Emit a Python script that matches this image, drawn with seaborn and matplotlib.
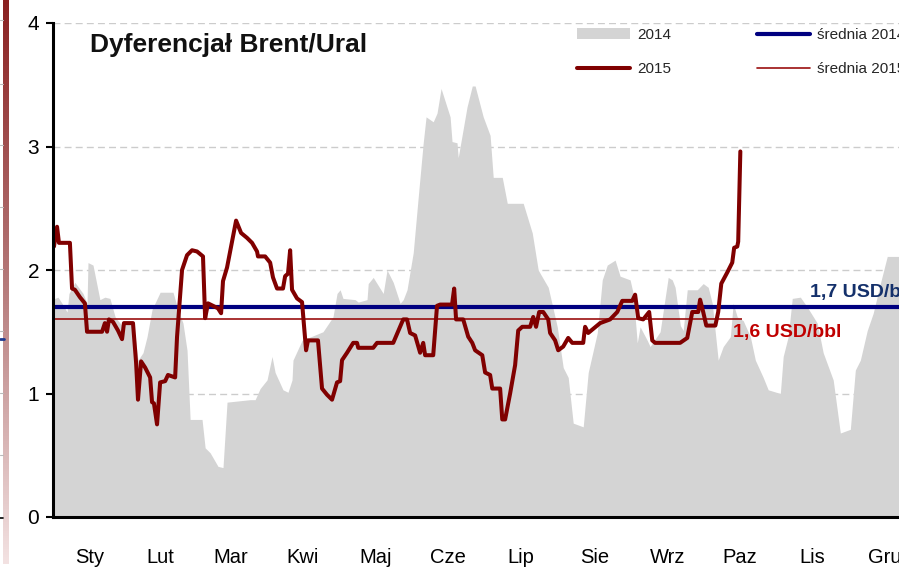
import numpy as np
import pandas as pd
import matplotlib
matplotlib.use("Agg")
import matplotlib.pyplot as plt
from matplotlib.colors import LinearSegmentedColormap
from matplotlib.lines import Line2D
from matplotlib.patches import Patch
import seaborn as sns

# Month labels (Polish) and month lengths used for the day-of-year axis
months = ["Sty", "Lut", "Mar", "Kwi", "Maj", "Cze", "Lip", "Sie", "Wrz", "Paz", "Lis", "Gru"]
month_days = [31, 28, 31, 30, 31, 30, 31, 31, 30, 31, 30, 31]

# Brent/Ural spread 2014 (USD/bbl), by day of year
day_2014 = [0, 0.8, 2.1, 3.8, 5.9, 6.7, 9.2, 12.6, 14.3, 14.7, 16.8, 19.7, 21.8, 23.9, 26.1,
            29.0, 31.1, 33.2, 34.5, 35.7, 37.8, 39.5, 41.6, 45.0, 50.4, 52.5, 54.6, 56.3,
            57.6, 62.6, 63.9, 66.0, 69.3, 71.4, 73.1, 82.8, 84.9, 87.0, 89.9, 92.0, 93.3,
            96.6, 98.7, 100.4, 100.8, 104.6, 113.4, 117.6, 119.3, 120.6, 121.8, 126.9,
            128.2, 131.9, 132.4, 134.5, 138.7, 140.3, 142.9, 145.8, 147.1, 148.7, 151.3,
            153.4, 155.5, 156.7, 159.7, 161.3, 163.0, 166.8, 167.6, 169.7, 170.2, 173.9,
            176.1, 177.3, 180.7, 183.6, 184.9, 188.7, 190.8, 197.5, 201.3, 203.8, 208.0,
            211.8, 214.3, 216.4, 218.5, 222.7, 224.8, 228.6, 230.7, 232.8, 236.1, 238.2,
            242.4, 243.7, 245.4, 246.6, 249.6, 250.8, 255.0, 258.4, 260.1, 261.3, 263.5,
            264.7, 266.4, 270.6, 273.1, 275.2, 276.9, 279.4, 281.5, 284.5, 285.7, 287.4,
            289.9, 292.9, 295.0, 298.3, 300.4, 305.5, 306.7, 308.8, 310.5, 313.9, 316.8,
            321.0, 323.5, 327.7, 330.7, 334.9, 337.0, 339.1, 342.0, 344.5, 347.5, 350.4, 365]
val_2014 = [1.77, 1.77, 1.78, 1.73, 1.66, 1.81, 1.90, 1.81, 1.73, 2.06, 2.04, 1.76, 1.78, 1.77, 1.62,
            1.55, 1.58, 1.55, 1.46, 1.27, 1.33, 1.46, 1.68, 1.82, 1.82, 1.68, 1.57, 1.35,
            0.79, 0.79, 0.56, 0.52, 0.41, 0.40, 0.93, 0.95, 0.95, 1.04, 1.11, 1.30, 1.17,
            1.03, 1.01, 1.11, 1.27, 1.43, 1.50, 1.62, 1.81, 1.84, 1.77, 1.76,
            1.74, 1.76, 1.89, 1.94, 1.81, 2.00, 1.90, 1.73, 1.76, 1.84, 2.14,
            2.59, 3.03, 3.24, 3.20, 3.27, 3.47, 3.24, 3.04, 3.03, 2.91, 3.32,
            3.49, 3.49, 3.24, 3.09, 2.75, 2.75, 2.54, 2.54, 2.30, 2.00, 1.86,
            1.54, 1.21, 1.13, 0.76, 0.73, 1.17, 1.49, 1.92, 2.04, 2.08, 1.95,
            1.92, 1.81, 1.41, 1.54, 1.43, 1.38, 1.50, 1.94, 1.92, 1.86, 1.55,
            1.51, 1.84, 1.84, 1.89, 1.86, 1.73, 1.27, 1.38, 1.46, 1.73, 1.62,
            1.59, 1.46, 1.27, 1.13, 1.03, 1.00, 1.30, 1.46, 1.77, 1.78, 1.70,
            1.57, 1.33, 1.11, 0.68, 0.71, 1.19, 1.27, 1.51, 1.65, 1.89, 2.11, 2.11]

# Brent/Ural spread 2015 (USD/bbl), by day of year
day_2015 = [0.4, 1.7, 2.5, 7.1, 8.0, 9.2, 11.3, 13.4, 14.3, 20.6, 21.8, 22.7, 23.5, 25.2, 27.3,
            29.0, 29.8, 33.6, 34.9, 35.7, 37.0, 38.7, 40.8, 41.6, 42.4, 43.7, 45.0, 47.1,
            48.3, 51.3, 52.1, 54.2, 56.3, 58.4, 60.5, 63.0, 63.9, 65.1, 69.3, 70.6, 71.4,
            73.1, 75.2, 76.9, 79.0, 81.5, 83.6, 85.7, 86.1, 89.1, 91.2, 92.4, 94.1, 96.6,
            97.5, 98.7, 99.6, 100.4, 102.5, 104.6, 106.3, 107.1, 111.3, 113.0, 115.1,
            117.2, 119.3, 120.6, 121.4, 123.5, 126.1, 127.7, 128.2, 134.5, 136.1, 142.9,
            145.8, 147.1, 148.7, 150.0, 152.1, 154.2, 155.5, 156.3, 159.7, 161.3, 162.6,
            167.6, 168.5, 169.3, 172.3, 174.4, 176.1, 177.3, 180.3, 181.5, 183.6, 184.5,
            187.8, 188.7, 189.9, 192.0, 194.1, 195.4, 197.1, 200.4, 201.7, 202.9, 204.2,
            205.9, 208.0, 208.8, 210.9, 212.2, 214.3, 216.4, 218.1, 222.7, 223.5, 224.8,
            229.8, 234.0, 237.0, 239.1, 243.3, 244.5, 245.8, 247.9, 250.4, 251.7, 252.9,
            263.4, 266.4, 268.5, 271.0, 271.8, 273.1, 274.4, 278.2, 279.4, 280.7, 283.2,
            285.3, 286.1, 287.4, 287.8, 288.7]
val_2015 = [2.19, 2.35, 2.22, 2.22, 1.85, 1.84, 1.78, 1.73, 1.50, 1.50, 1.57, 1.50, 1.60, 1.58, 1.51,
            1.44, 1.57, 1.57, 1.25, 0.95, 1.26, 1.21, 1.13, 0.93, 0.92, 0.75, 1.09, 1.10,
            1.15, 1.13, 1.46, 2.00, 2.12, 2.16, 2.15, 2.11, 1.61, 1.73, 1.69, 1.65, 1.91,
            2.02, 2.23, 2.40, 2.30, 2.26, 2.22, 2.15, 2.11, 2.11, 2.06, 1.94, 1.85, 1.85,
            1.95, 1.97, 2.16, 1.84, 1.77, 1.74, 1.35, 1.43, 1.43, 1.04, 0.99,
            0.95, 1.09, 1.10, 1.27, 1.33, 1.41, 1.41, 1.37, 1.37, 1.41, 1.41,
            1.54, 1.60, 1.60, 1.49, 1.47, 1.33, 1.41, 1.31, 1.31, 1.71, 1.72,
            1.72, 1.85, 1.60, 1.60, 1.46, 1.41, 1.35, 1.31, 1.17, 1.15, 1.04,
            1.04, 0.79, 0.79, 1.00, 1.23, 1.51, 1.54, 1.54, 1.62, 1.54, 1.66,
            1.66, 1.60, 1.49, 1.43, 1.35, 1.38, 1.45, 1.41, 1.41, 1.54, 1.49,
            1.57, 1.60, 1.66, 1.75, 1.75, 1.80, 1.61, 1.60, 1.66, 1.43, 1.41,
            1.41, 1.45, 1.66, 1.66, 1.76, 1.66, 1.55, 1.55, 1.66, 1.89, 1.98,
            2.06, 2.18, 2.19, 2.23, 2.96]

avg_2014 = 1.7
avg_2015 = 1.6
avg_2015_last_day = 289.5

labels = ["2014", "2015", "średnia 2014", "średnia 2015"]
label_avg_2014 = "1,7 USD/bbl"
label_avg_2015 = "1,6 USD/bbl"
title = "Dyferencjał Brent/Ural"

C_AREA = "#D4D4D4"
C_2015 = "#800000"
C_AVG14 = "#000080"
C_AVG15 = "#9B0F0F"

sns.set_theme(style="white")
plt.rcParams["font.family"] = ["Liberation Sans", "DejaVu Sans"]

W, H = 899, 570
fig = plt.figure(figsize=(W / 100, H / 100), dpi=100)
fig.patch.set_facecolor("white")


def fx(px):
    return px / W


def fy(py):
    return 1 - py / H


# the plot spans the whole year; December runs past the right edge of the canvas
ax = fig.add_axes([fx(53), fy(517), (922 - 53) / W, (517 - 23) / H])
ax.set_facecolor("white")

df14 = pd.DataFrame({"day": day_2014, "value": val_2014})
df15 = pd.DataFrame({"day": day_2015, "value": val_2015})

ax.fill_between(df14["day"], df14["value"], 0, color=C_AREA, lw=0, zorder=1)
ax.axhline(avg_2014, color=C_AVG14, lw=3.0, zorder=3)
ax.hlines(avg_2015, 0, avg_2015_last_day, color=C_AVG15, lw=1.2, zorder=3)
sns.lineplot(data=df15, x="day", y="value", ax=ax, color=C_2015, lw=2.9,
             estimator=None, sort=False, legend=False, zorder=4)

ax.set_xlim(0, 365)
ax.set_ylim(0, 4)
ax.set_xlabel("")
ax.set_ylabel("")

bounds = np.concatenate([[0], np.cumsum(month_days)])
mids = (bounds[:-1] + bounds[1:]) / 2
ax.set_xticks(bounds)
ax.set_xticklabels([])
ax.set_xticks(mids, minor=True)
ax.set_xticklabels(months, minor=True)
ax.tick_params(axis="x", which="major", direction="out", length=5, width=1.5, color="black")
ax.tick_params(axis="x", which="minor", length=0, pad=22, labelsize=14.5, labelcolor="black")

ax.set_yticks([0, 1, 2, 3, 4])
ax.set_yticklabels(["0", "1", "2", "3", "4"])
ax.tick_params(axis="y", direction="out", length=5, width=1.5, color="black",
               pad=5, labelsize=15, labelcolor="black", left=True)

ax.grid(axis="y", ls=(0, (5, 3)), color="#CCCCCC", lw=1.0)
ax.grid(axis="x", visible=False)
ax.set_axisbelow(True)
for side in ["top", "right"]:
    ax.spines[side].set_visible(False)
for side in ["left", "bottom"]:
    ax.spines[side].set_color("black")
    ax.spines[side].set_linewidth(2.2)
    ax.spines[side].set_zorder(6)

ax.text(318, 1.82, label_avg_2014, color="#14306B", fontsize=14, fontweight="bold",
        va="center", ha="left", zorder=7)
ax.text(285.7, 1.49, label_avg_2015, color="#C00000", fontsize=14, fontweight="bold",
        va="center", ha="left", zorder=7)

fig.text(fx(90), fy(45), title, fontsize=19, fontweight="bold", color="#111111",
         va="center", ha="left")

handles = [Patch(facecolor=C_AREA, edgecolor="none"),
           Line2D([], [], color=C_2015, lw=2.9),
           Line2D([], [], color=C_AVG14, lw=3.0),
           Line2D([], [], color=C_AVG15, lw=1.2)]
fig.legend(handles, labels, ncol=2, loc="upper left", bbox_to_anchor=(fx(577), fy(28)),
           frameon=False, fontsize=11, handlelength=3.47, handletextpad=0.46,
           columnspacing=5.6, labelspacing=1.3, borderpad=0, borderaxespad=0)

# decorative vertical strip on the left edge
strip = fig.add_axes([fx(3), fy(564), 6 / W, 564 / H])
grad = np.linspace(0, 1, 256).reshape(-1, 1)
cmap = LinearSegmentedColormap.from_list("edge", ["#8A2020", "#B57A7A", "#F3E2E2"])
strip.imshow(grad, aspect="auto", cmap=cmap)
strip.axis("off")
for yy in [20, 84, 145, 207, 269, 331, 393, 455]:
    fig.add_artist(Line2D([0, fx(3)], [fy(yy), fy(yy)], color="#BBBBBB", lw=0.8))
fig.add_artist(Line2D([0, fx(4)], [fy(339), fy(339)], color="#1F3A8F", lw=2))
fig.add_artist(Line2D([0, fx(3)], [fy(518), fy(518)], color="black", lw=1.2))

fig.savefig("out.png", dpi=100)
